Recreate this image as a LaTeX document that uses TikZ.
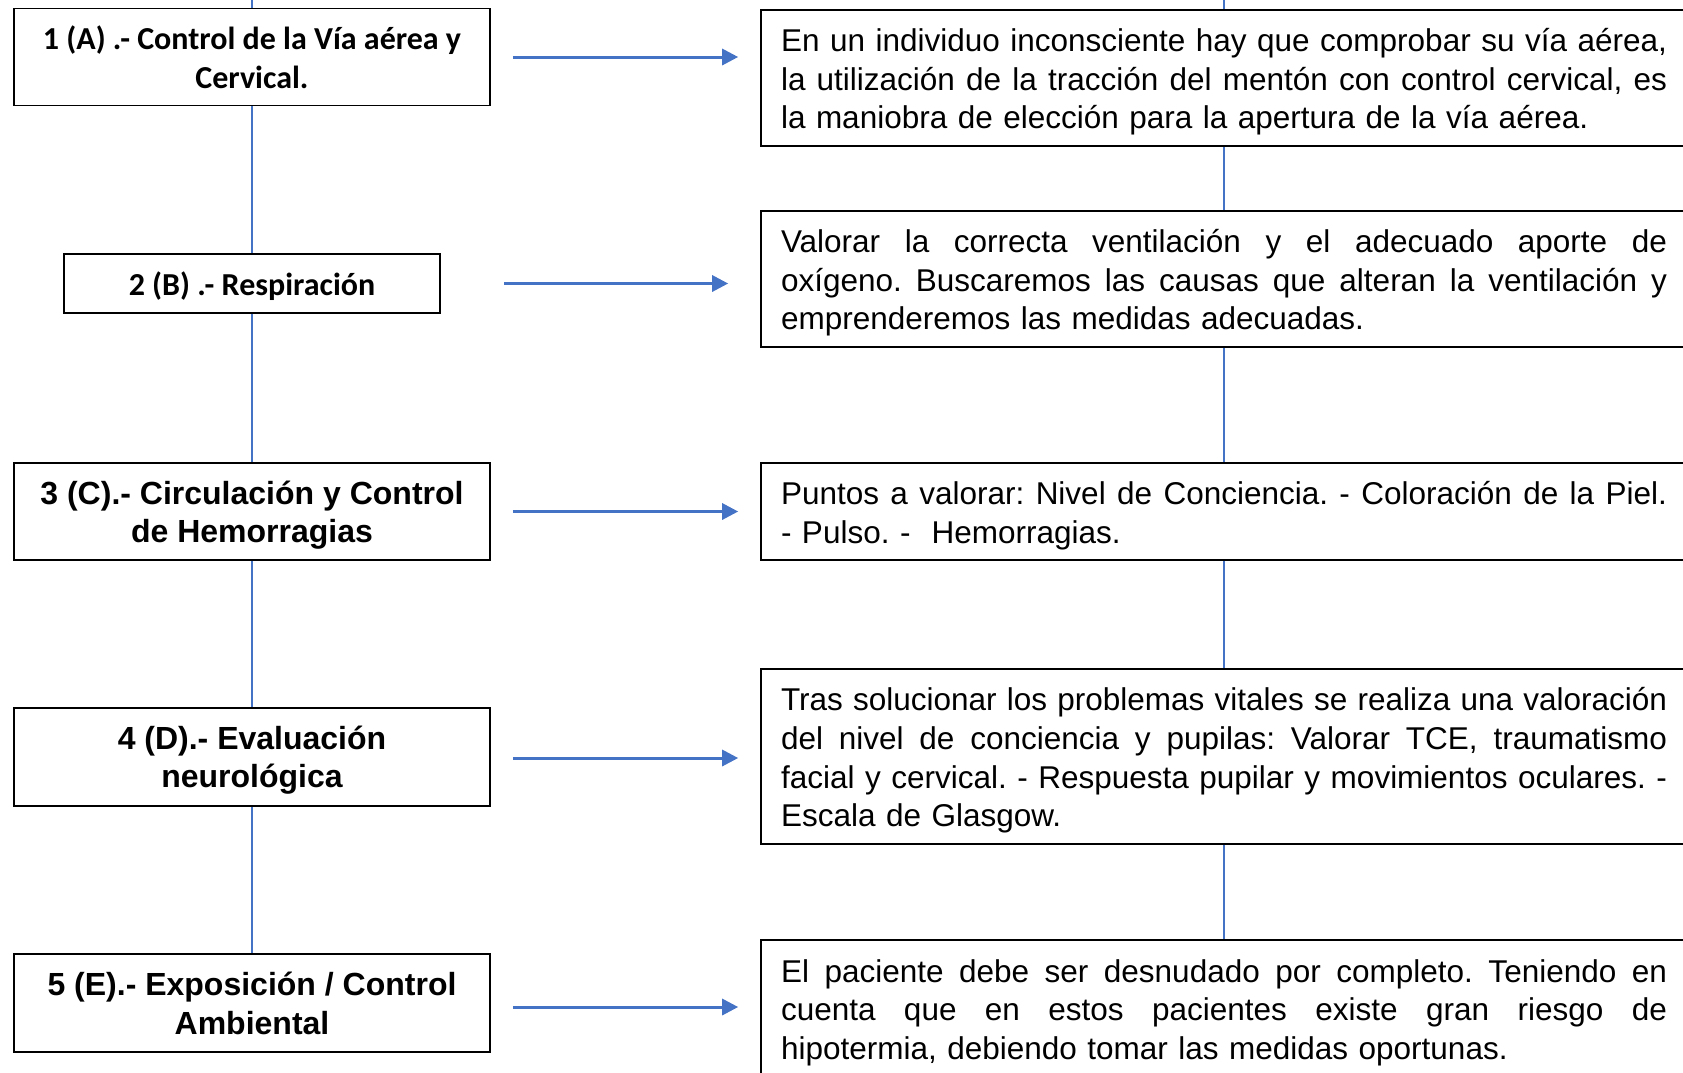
\documentclass[tikz,border=0pt]{standalone}
\usepackage{fontspec}
\setmainfont{Liberation Sans}
\newfontfamily\calfont{Carlito}
\usetikzlibrary{arrows.meta}
\definecolor{ablue}{HTML}{4472C4}
\newcommand{\jl}[1]{\makebox[886pt][s]{\spaceskip=\fontdimen2\font plus 1em minus 0.05em\relax #1}}
\begin{document}
\begin{tikzpicture}[x=1pt,y=-1pt,
  lbox/.style={draw=black, line width=1.6pt, inner sep=0pt, minimum width=476pt},
  ltext/.style={align=center, inner sep=0pt,
    font=\fontsize{32}{38.6}\selectfont\bfseries\frenchspacing},
  rbox/.style={draw=black, line width=1.6pt, inner sep=0pt, minimum width=926pt},
  rtext/.style={text width=886pt, inner sep=0pt, align=left,
    font=\fontsize{31.5}{38.6}\selectfont\frenchspacing},
  link/.style={draw=ablue, line width=1.2pt},
  arr/.style={draw=ablue, line width=3pt, -{Triangle[length=16pt,width=16pt]}}
]
\useasboundingbox (0,0) rectangle (1683,1072);

% left column
\node[lbox, minimum height=97pt,
  label={[ltext, yshift=0pt]center:{\calfont\bfseries 1 (A) .- Control de la Vía aérea y\\\calfont\bfseries Cervical.}}] (b1) at (252,57) {};
\node[lbox, minimum width=376pt, minimum height=59pt,
  label={[ltext, yshift=-3pt]center:{\calfont\bfseries 2 (B) .- Respiración}}] (b2) at (252,283.5) {};
\node[lbox, minimum height=97pt,
  label={[ltext, yshift=-3.5pt]center:{3 (C).- Circulación y Control\\de Hemorragias}}] (b3) at (252,511.5) {};
\node[lbox, minimum height=98pt,
  label={[ltext, yshift=-3pt]center:{4 (D).- Evaluación\\neurológica}}] (b4) at (252,757) {};
\node[lbox, minimum height=98pt,
  label={[ltext, yshift=-0.5pt]center:{5 (E).- Exposición / Control\\Ambiental}}] (b5) at (252,1003) {};

% right column
\node[rbox, minimum height=136pt,
  label={[rtext, yshift=-4pt]center:{\jl{En un individuo inconsciente hay que comprobar su vía aérea,}\\
\jl{la utilización de la tracción del mentón con control cervical, es}\\
la maniobra de elección para la apertura de la vía aérea.}}] (r1) at (1224,78) {};
\node[rbox, minimum height=136pt,
  label={[rtext, yshift=-4pt]center:{\jl{Valorar la correcta ventilación y el adecuado aporte de}\\
\jl{oxígeno. Buscaremos las causas que alteran la ventilación y}\\
emprenderemos las medidas adecuadas.}}] (r2) at (1224,279) {};
\node[rbox, minimum height=97pt,
  label={[rtext, yshift=-4pt]center:{\jl{Puntos a valorar: Nivel de Conciencia. - Coloración de la Piel.}\\
- Pulso. -\ \ Hemorragias.}}] (r3) at (1224,511.5) {};
\node[rbox, minimum height=175pt,
  label={[rtext, yshift=-4pt]center:{\jl{Tras solucionar los problemas vitales se realiza una valoración}\\
\jl{del nivel de conciencia y pupilas: Valorar TCE, traumatismo}\\
\jl{facial y cervical. - Respuesta pupilar y movimientos oculares. -}\\
Escala de Glasgow.}}] (r4) at (1224,756.5) {};
\node[rbox, minimum height=138pt,
  label={[rtext, yshift=-3.5pt]center:{\jl{El paciente debe ser desnudado por completo. Teniendo en}\\
\jl{cuenta que en estos pacientes existe gran riesgo de}\\
hipotermia, debiendo tomar las medidas oportunas.}}] (r5) at (1224,1009) {};

% vertical links
\coordinate (ltop) at (252,0);
\coordinate (rtop) at (1224,0);
\draw[link] (ltop) -- (b1);
\draw[link] (b1) -- (b2);
\draw[link] (b2) -- (b3);
\draw[link] (b3) -- (b4);
\draw[link] (b4) -- (b5);
\draw[link] (rtop) -- (r1);
\draw[link] (r1) -- (r2);
\draw[link] (r2) -- (r3);
\draw[link] (r3) -- (r4);
\draw[link] (r4) -- (r5);

% arrows
\draw[arr, shorten <=22pt, shorten >=22pt] (b1.east) -- (b1.east -| r1.west);
\draw[arr, shorten <=63pt, shorten >=32pt] (b2.east) -- (b2.east -| r2.west);
\draw[arr, shorten <=22pt, shorten >=22pt] (b3.east) -- (b3.east -| r3.west);
\draw[arr, shorten <=22pt, shorten >=22pt] ([yshift=-1pt]b4.east) -- ([yshift=-1pt]b4.east -| r4.west);
\draw[arr, shorten <=22pt, shorten >=22pt] ([yshift=-4pt]b5.east) -- ([yshift=-4pt]b5.east -| r5.west);
\end{tikzpicture}
\end{document}
